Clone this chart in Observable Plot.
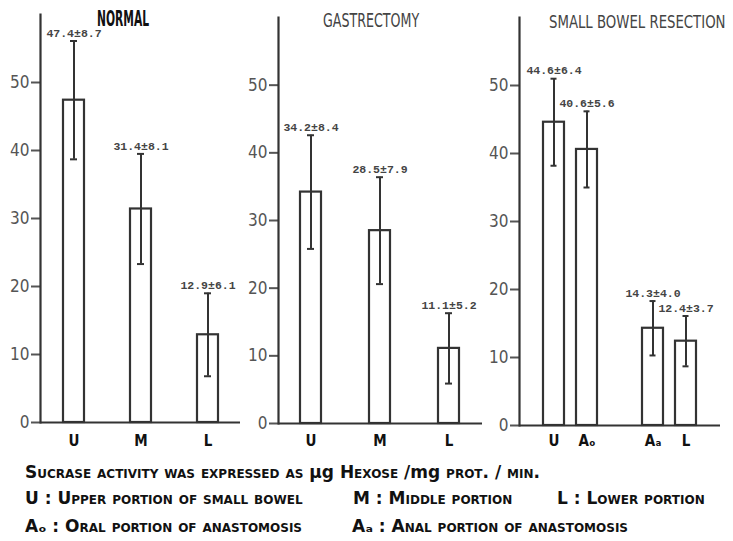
<!DOCTYPE html>
<html>
<head>
<meta charset="utf-8">
<script src="https://cdn.jsdelivr.net/npm/d3@7"></script>
<script src="https://cdn.jsdelivr.net/npm/@observablehq/plot@0.6"></script>
<style>
  html, body { margin: 0; padding: 0; background: #fff; }
  #wrap { position: relative; width: 733px; height: 541px; overflow: hidden; background: #fff; }
  .panel { position: absolute; top: 0; }
  .title { position: absolute; font-family: "DejaVu Sans Condensed", "DejaVu Sans", sans-serif; white-space: nowrap; transform-origin: 0 0; line-height: normal; }
  .cap { position: absolute; font-family: "DejaVu Sans", sans-serif; font-weight: bold; font-variant: small-caps; font-size: 17px; color: #111; white-space: nowrap; line-height: normal; }
  .cap .n { font-variant: normal; }
</style>
</head>
<body>
<div id="wrap"></div>
<script>
// ---- data ----
const normalCats = ["U", "M", "L"];
const normalMean = [47.4, 31.4, 12.9];
const normalSD   = [8.7, 8.1, 6.1];

const gastCats = ["U", "M", "L"];
const gastMean = [34.2, 28.5, 11.1];
const gastSD   = [8.4, 7.9, 5.2];

const sbrCats = ["U", "Ao", "Aa", "L"];
const sbrMean = [44.6, 40.6, 14.3, 12.4];
const sbrSD   = [6.4, 5.6, 4.0, 3.7];

const yTicks = [0, 10, 20, 30, 40, 50];
const titles = ["NORMAL", "GASTRECTOMY", "SMALL BOWEL RESECTION"];
const catNames = {U: "U", M: "M", L: "L", Ao: "A\u2092", Aa: "A\u2090"};

const captionLine = "Sucrase activity was expressed as \u03bcg Hexose /mg prot. / min.";
const legendRow1 = ["U : Upper portion of small bowel", "M : Middle portion", "L : Lower portion"];
const legendRow2 = ["A\u2092 : Oral portion of anastomosis", "A\u2090 : Anal portion of anastomosis"];

// ---- drawing ----
const ink = "#333";
const wrap = document.getElementById("wrap");

function rows(cats, mean, sd) {
  return cats.map((c, i) => ({
    cat: c, mean: mean[i], lo: mean[i] - sd[i], hi: mean[i] + sd[i],
    label: `${mean[i].toFixed(1)}\u00b1${sd[i].toFixed(1)}`
  }));
}

function panel(o) {
  const data = rows(o.cats, o.mean, o.sd);
  const chart = Plot.plot({
    width: o.width, height: 450,
    marginLeft: o.marginLeft, marginRight: o.marginRight,
    marginTop: o.marginTop, marginBottom: o.marginBottom,
    style: {background: "transparent", overflow: "visible", color: ink},
    x: {domain: o.domain, paddingInner: o.pi, paddingOuter: o.po, axis: null},
    y: {domain: [0, 60], axis: null},
    marks: [
      Plot.barY(data, {x: "cat", y: "mean", fill: "white", stroke: ink, strokeWidth: 2.2}),
      Plot.ruleX(data, {x: "cat", y1: "lo", y2: "hi", stroke: ink, strokeWidth: 2}),
      Plot.tickY(data, {x: "cat", y: "lo", stroke: ink, strokeWidth: 2, insetLeft: o.capInset, insetRight: o.capInset}),
      Plot.tickY(data, {x: "cat", y: "hi", stroke: ink, strokeWidth: 2, insetLeft: o.capInset, insetRight: o.capInset}),
      Plot.text(data, {x: "cat", y: "hi", text: "label", dy: -8, fontFamily: "'Liberation Mono', 'DejaVu Sans Mono', monospace",
        fontSize: 11.5, fontWeight: "bold", fill: "#444"}),
      Plot.axisY({ticks: yTicks, tickSize: 9, tickPadding: 2, strokeWidth: 2, fontSize: 17,
        fontFamily: "'DejaVu Sans Condensed', 'DejaVu Sans', sans-serif", color: "#555", label: null}),
      Plot.axisX({tickSize: 0, tickPadding: o.xPad, fontSize: 15, fontWeight: "bold",
        fontFamily: "'DejaVu Sans Condensed', 'DejaVu Sans', sans-serif", color: "#111", label: null,
        tickFormat: d => catNames[d] ?? ""}),
      Plot.frame({anchor: "left", stroke: ink, strokeWidth: 2.2}),
      Plot.ruleY([0], {stroke: ink, strokeWidth: 2.2})
    ]
  });
  chart.classList.add("panel");
  chart.style.left = o.left + "px";
  wrap.appendChild(chart);
}

panel({cats: normalCats, domain: normalCats, mean: normalMean, sd: normalSD,
  left: 0, width: 245, marginLeft: 40, marginRight: 5, marginTop: 14, marginBottom: 28,
  pi: 0.69, po: 0.32, capInset: 7, xPad: 13});
panel({cats: gastCats, domain: gastCats, mean: gastMean, sd: gastSD,
  left: 236, width: 250, marginLeft: 42, marginRight: 4, marginTop: 17, marginBottom: 27,
  pi: 0.69, po: 0.32, capInset: 7, xPad: 12});
panel({cats: sbrCats, domain: ["U", "Ao", " ", "Aa", "L"], mean: sbrMean, sd: sbrSD,
  left: 478, width: 255, marginLeft: 41, marginRight: 13, marginTop: 17, marginBottom: 25,
  pi: 0.35, po: 0.65, capInset: 7.5, xPad: 10});

// titles
const titleStyle = [
  {left: 97, top: 7, size: 20.5, sx: 0.58, weight: "bold", color: "#111"},
  {left: 323, top: 9, size: 19, sx: 0.74, weight: "normal", color: "#444"},
  {left: 549, top: 11, size: 18, sx: 0.82, weight: "normal", color: "#444"}
];
titles.forEach((t, i) => {
  const s = titleStyle[i];
  const d = document.createElement("div");
  d.className = "title";
  d.textContent = t;
  Object.assign(d.style, {left: s.left + "px", top: s.top + "px", fontSize: s.size + "px",
    fontWeight: s.weight, color: s.color, transform: `scaleX(${s.sx})`});
  wrap.appendChild(d);
});

// caption and legend
function addCap(text, left, top) {
  const d = document.createElement("div");
  d.className = "cap";
  // keep units (\u03bcg, mg) in lower case as in the original
  text.split(/(\u03bcg|mg)/).forEach(part => {
    if (part === "\u03bcg" || part === "mg") {
      const s = document.createElement("span");
      s.className = "n";
      s.textContent = part;
      d.appendChild(s);
    } else {
      d.appendChild(document.createTextNode(part));
    }
  });
  d.style.left = left + "px";
  d.style.top = top + "px";
  wrap.appendChild(d);
}
addCap(captionLine, 25, 462);
[25, 353, 557].forEach((x, i) => addCap(legendRow1[i], x, 488));
[25, 352].forEach((x, i) => addCap(legendRow2[i], x, 516));
</script>
</body>
</html>
